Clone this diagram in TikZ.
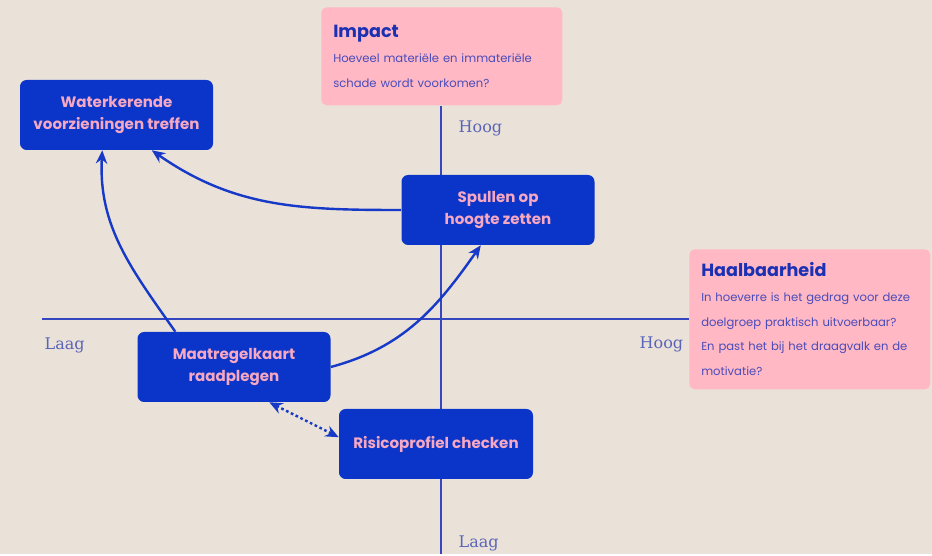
\documentclass[tikz,border=0pt]{standalone}
\usepackage{fontspec}
\setmainfont{DejaVu Serif}
\setsansfont{Poppins}
\usetikzlibrary{arrows.meta}

\definecolor{bgbeige}{HTML}{EAE2D8}
\definecolor{actionblue}{HTML}{0B34C8}
\definecolor{actionpink}{HTML}{F6A8C2}
\definecolor{critpink}{HTML}{FFB8C4}
\definecolor{crittitle}{HTML}{1C30B4}
\definecolor{critbody}{HTML}{4A4CBA}
\definecolor{axisblue}{HTML}{3446C0}
\definecolor{levelblue}{HTML}{5A64B8}
\definecolor{flowblue}{HTML}{1739C8}

\newcommand{\crithead}[1]{{\fontsize{13.2}{16}\selectfont\bfseries\color{crittitle}#1}}

\begin{document}
\begin{tikzpicture}[x=0.75pt, y=-0.75pt,
    action/.style={rectangle, rounded corners=5pt, fill=actionblue, text=actionpink,
        minimum width=144.75pt, minimum height=52.5pt, align=center,
        font=\sffamily\bfseries\fontsize{11.3}{16}\selectfont},
    criterion/.style={rectangle, rounded corners=4pt, fill=critpink, text=critbody,
        anchor=north west, minimum width=180.75pt, text width=162.75pt,
        inner xsep=9pt, align=left, font=\sffamily\fontsize{8.7}{18.5}\selectfont},
    axis/.style={draw=axisblue, line width=1pt},
    level/.style={text=levelblue, anchor=west, font=\fontsize{12}{14}\selectfont},
    flow/.style={draw=flowblue, line width=1.8pt, -{Stealth[length=10pt,width=8.5pt]}},
    link/.style={draw=flowblue, line width=1.8pt, dash pattern=on 2pt off 2pt,
        {Stealth[length=10pt,width=8.5pt]}-{Stealth[length=10pt,width=8.5pt]}}
]
    % background
    \fill[bgbeige] (0,0) rectangle (932,554);

    % axes
    \coordinate (vtop) at (441,106);
    \coordinate (vbot) at (441,554);
    \coordinate (hleft) at (42,319);
    \coordinate (hright) at (689,319);
    \draw[axis] (vtop) -- (vbot);
    \draw[axis] (hleft) -- (hright);

    % criteria
    \node[criterion, minimum height=73.5pt] (impact) at (321,7)
        {\crithead{Impact}\\
         Hoeveel materiële en immateriële schade wordt voorkomen?};
    \node[criterion, minimum height=105pt] (haalbaar) at (689,249)
        {\crithead{Haalbaarheid}\\
         In hoeverre is het gedrag voor deze doelgroep praktisch uitvoerbaar?
         En past het bij het draagvalk en de motivatie?};

    % levels
    \node[level] (imphigh) at (454,128) {Hoog};
    \node[level] (implow) at (454,543) {Laag};
    \node[level] (haallow) at (40,345) {Laag};
    \node[level] (haalhigh) at (635,344) {Hoog};

    % measures
    \node[action] (water) at (116.5,115) {Waterkerende\\voorzieningen treffen};
    \node[action] (spullen) at (498,210) {Spullen op\\hoogte zetten};
    \node[action] (maatregel) at (234,367) {Maatregelkaart\\raadplegen};
    \node[action, minimum width=145.5pt] (risico) at (436,444) {Risicoprofiel checken};

    % connections
    \draw[flow] (spullen.west) to[out=180, in=-35] (water.-45);
    \draw[flow] (maatregel.149) to[out=125, in=-93] (water.-112);
    \draw[flow] (maatregel.east) to[out=15, in=-125] (spullen.-116);
    \draw[link] (maatregel.-45) -- (risico.176);
\end{tikzpicture}
\end{document}
